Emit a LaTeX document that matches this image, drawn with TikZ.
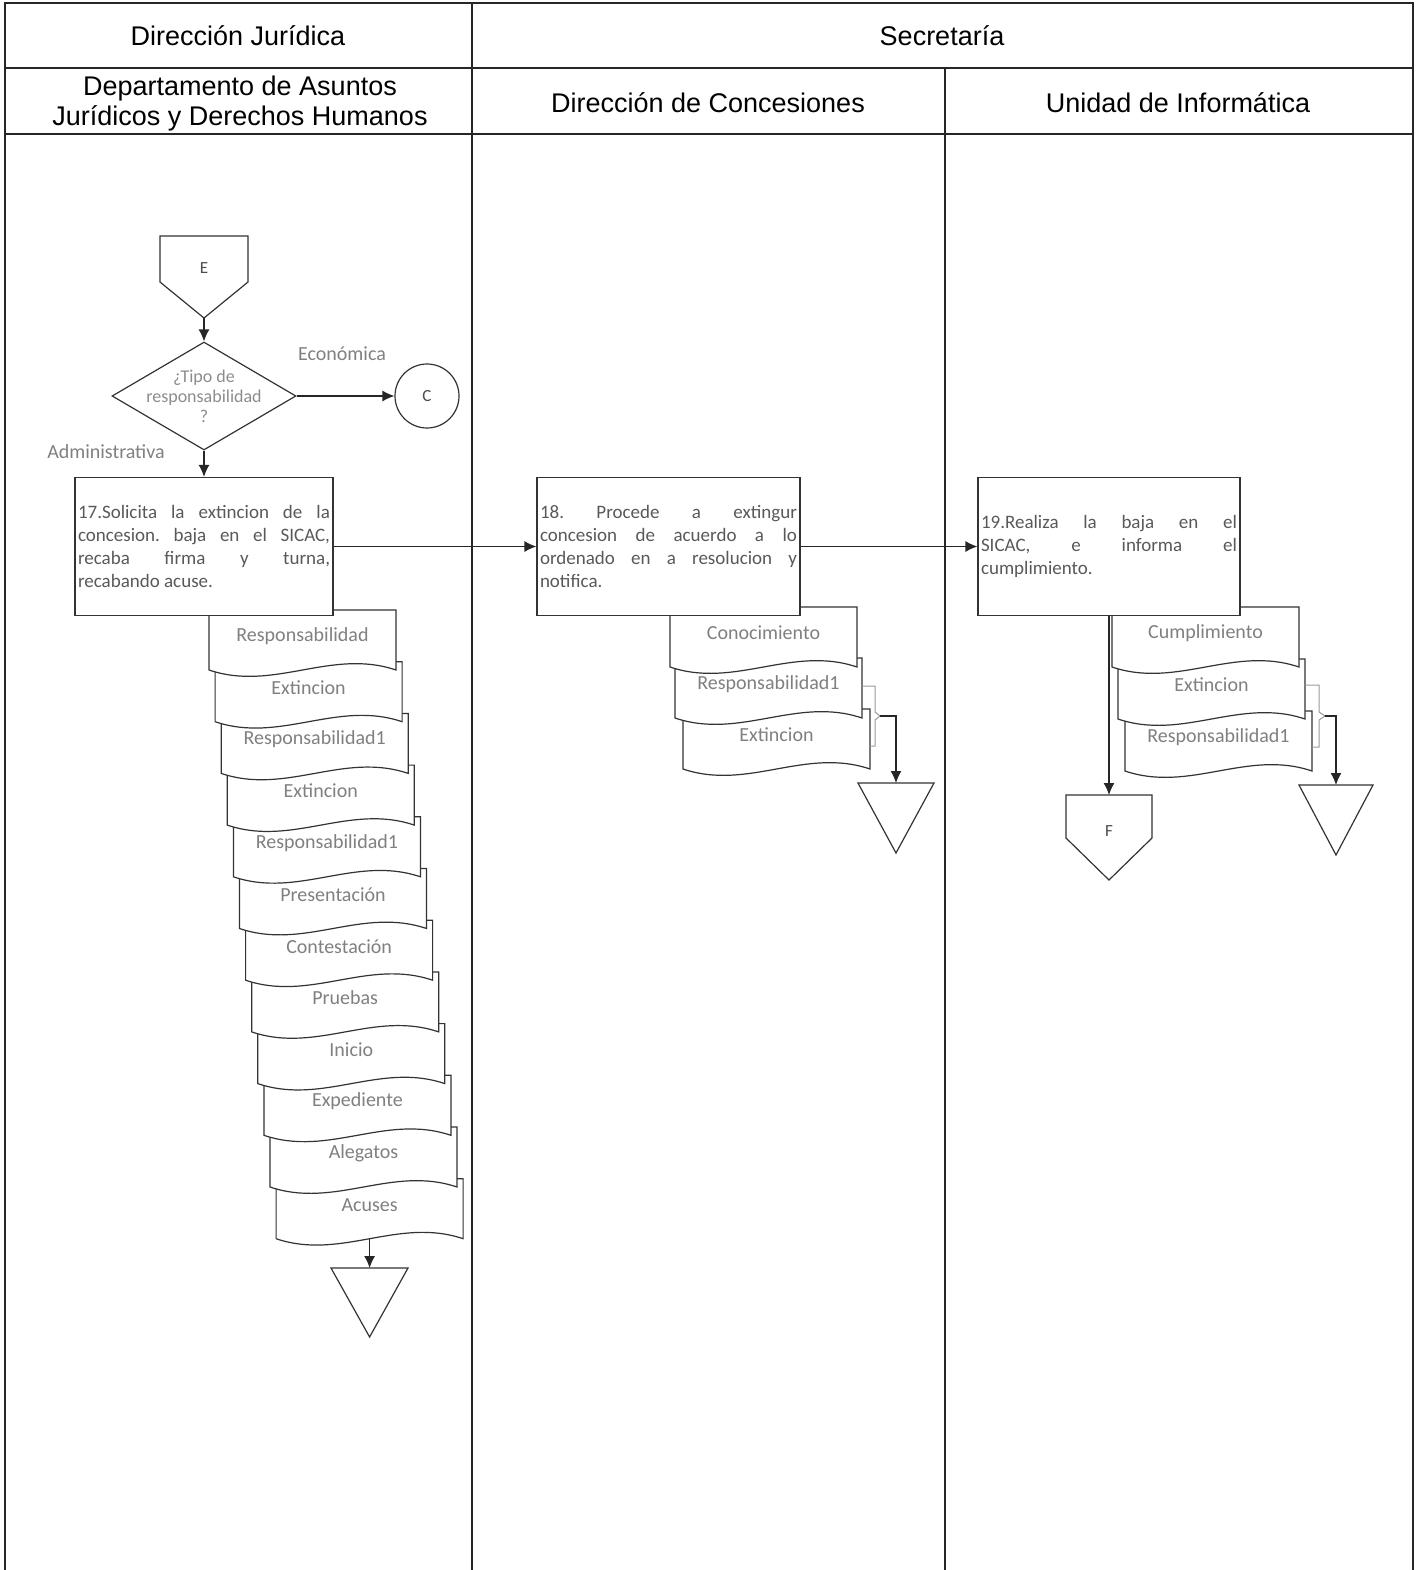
\documentclass[tikz,border=0pt]{standalone}
\usepackage{fontspec}
\setmainfont{Liberation Sans}
\newfontfamily\calfont{Carlito}
\usetikzlibrary{arrows.meta,shapes.geometric,calc}
\frenchspacing
\newcommand\docsh[4]{%
  \filldraw[shp, fill=white] (#2,#3) -- ++(187,0) -- ++(0,60) .. controls +(-65,-22) and +(65,22) .. ++(-187,0) -- cycle;
  \node[doctxt] (#1) at ($(#2,#3)+(93.5,26)$) {#4};}
\begin{document}
\begin{tikzpicture}[x=0.5pt,y=-0.5pt,
  lane/.style={draw=black!85, line width=1pt},
  shp/.style={draw=black!80, line width=0.6pt},
  arr/.style={draw=black!85, line width=0.6pt, -{Latex[length=6pt,width=5.5pt]}},
  bracegrey/.style={draw=black!40, line width=0.5pt},
  hdr/.style={font=\fontsize{13.5}{15}\selectfont, align=center},
  proc/.style={shp, fill=white, rectangle, inner xsep=1.5pt, inner ysep=0pt, align=justify, minimum height=69pt, font=\calfont\fontsize{9.5}{11.5}\selectfont, text=black!65},
  doctxt/.style={font=\calfont\fontsize{10}{12}\selectfont, text=black!50, inner sep=0pt},
  lbl/.style={font=\calfont\fontsize{10}{12}\selectfont, text=black!50},
  small/.style={font=\calfont\fontsize{8.5}{10}\selectfont, text=black!70},
]
\useasboundingbox (0,0) rectangle (1418,1570);
% swimlane table
\draw[lane] (5,1570) -- (5,3) -- (1413,3) -- (1413,1570);
\draw[lane] (5,68) -- (1413,68);
\draw[lane] (5,134) -- (1413,134);
\draw[lane] (472,3) -- (472,1570);
\draw[lane] (945,68) -- (945,1570);
\node[hdr] (h1) at (238,36) {Dirección Jurídica};
\node[hdr] (h2) at (942,36) {Secretaría};
\node[hdr] (h3) at (240,104) {Departamento de Asuntos\\Jurídicos y Derechos Humanos};
\node[hdr] (h4) at (708,103) {Dirección de Concesiones};
\node[hdr] (h5) at (1178,103) {Unidad de Informática};

% connector E
\draw[shp] (160,236) -- (248,236) -- (248,282) -- (204,318) -- (160,282) -- cycle;
\node[small] (E) at (204,268) {E};
\coordinate (Ebot) at (204,318);

% decision
\node[shp, diamond, minimum width=92pt, minimum height=54pt, inner sep=0pt] (dec) at (204,396) {};
\node[font=\calfont\fontsize{9}{10}\selectfont, text=black!45, align=center] (dectxt) at (204,396) {¿Tipo de\\responsabilidad\\?};
\node[shp, circle, minimum size=32pt, inner sep=0pt, small] (C) at (427,396) {C};
\node[lbl] (eco) at (342,354) {Económica};
\node[lbl] (adm) at (106,452) {Administrativa};

% left documents (drawn from last to first)
\docsh{ld11}{276.1}{1178.7}{Acuses}
\docsh{ld10}{270}{1127}{Alegatos}
\docsh{ld9}{263.9}{1075.3}{Expediente}
\docsh{ld8}{257.8}{1023.6}{Inicio}
\docsh{ld7}{251.7}{971.9}{Pruebas}
\docsh{ld6}{245.6}{920.2}{Contestación}
\docsh{ld5}{239.5}{868.5}{Presentación}
\docsh{ld4}{233.4}{816.8}{Responsabilidad1}
\docsh{ld3}{227.3}{765.1}{Extincion}
\docsh{ld2}{221.2}{713.4}{Responsabilidad1}
\docsh{ld1}{215.1}{661.7}{Extincion}
\docsh{ld0}{209}{610}{Responsabilidad}
\coordinate (accB) at (369.6,1238.7);
\draw[shp] (331,1268) -- (408,1268) -- (369.6,1337) -- cycle;
\coordinate (t1) at (369.6,1268);

% middle documents
\docsh{md2}{683}{709}{Extincion}
\docsh{md1}{675}{658}{Responsabilidad1}
\docsh{md0}{670}{607}{Conocimiento}
\draw[bracegrey] (862,686) -- (875,686) -- (875,712) -- (880,716) -- (875,720) -- (875,746) -- (870,746);
\coordinate (mb) at (880,716);
\coordinate (t2) at (896,783);
\draw[shp] (858,783) -- (934,783) -- (896,853) -- cycle;

% right documents
\docsh{rd2}{1125}{711}{Responsabilidad1}
\docsh{rd1}{1118}{659}{Extincion}
\docsh{rd0}{1112}{607}{Cumplimiento}
\draw[bracegrey] (1305,685) -- (1319,685) -- (1319,712) -- (1325,716) -- (1319,720) -- (1319,747) -- (1312,747);
\coordinate (rb) at (1325,716);
\coordinate (t3) at (1336,785);
\draw[shp] (1299,785) -- (1373,785) -- (1336,855) -- cycle;

% connector F
\draw[shp] (1066,795) -- (1152,795) -- (1152,838) -- (1109,880) -- (1066,838) -- cycle;
\node[small] (F) at (1109,831) {F};
\coordinate (Ftop) at (1109,795);

% process boxes
\node[proc, text width=126pt] (b17) at (204,546.5) {17.Solicita la extincion de la\linebreak concesion. baja en el SICAC,\linebreak recaba firma y turna,\linebreak recabando acuse.};
\node[proc, text width=128.5pt] (b18) at (668.5,546.5) {18. Procede a extingur\linebreak concesion de acuerdo a lo\linebreak ordenado en a resolucion y\linebreak notifica.};
\node[proc, text width=128pt] (b19) at (1109,546.5) {19.Realiza la baja en el\linebreak SICAC, e informa el\linebreak cumplimiento.};

% connectors
\draw[arr] (Ebot) -- (dec.north);
\draw[arr] (dec.east) -- (C.west);
\draw[arr] (dec.south) -- (b17.north);
\draw[arr] (b17.east) -- (b18.west);
\draw[arr] (b18.east) -- (b19.west);
\draw[arr] (accB) -- (t1);
\draw[arr] (mb) -| (t2);
\draw[arr] (rb) -| (t3);
\draw[arr] (b19.south) -- (Ftop);
\end{tikzpicture}
\end{document}
